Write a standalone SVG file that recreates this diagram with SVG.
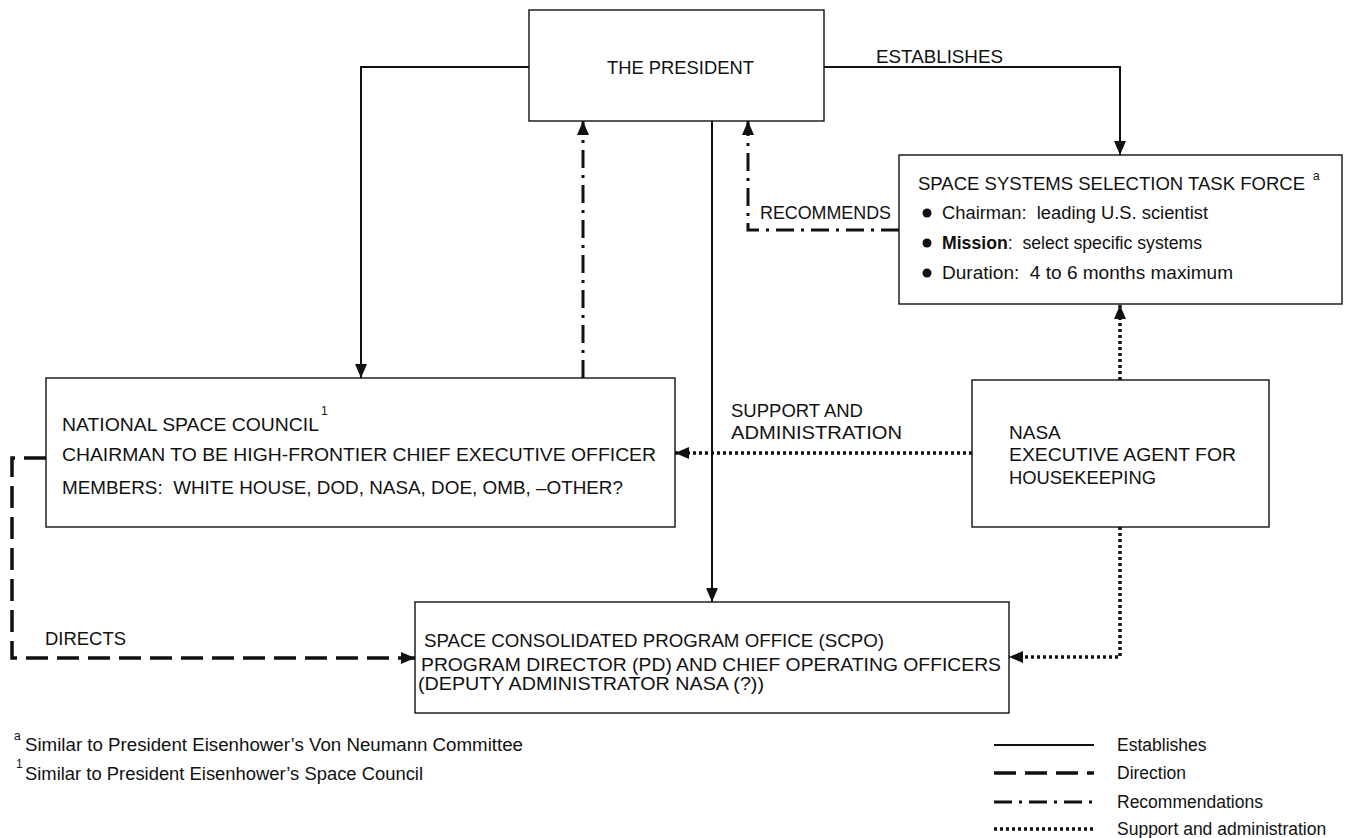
<svg xmlns="http://www.w3.org/2000/svg" width="1355" height="838" viewBox="0 0 1355 838">
<style>
text{font-family:"Liberation Sans",Arial,sans-serif;fill:#111}
.t{font-size:19px}
.m{font-size:18.3px}
.lg{font-size:17.5px}
.sup{font-size:12px}
.box{fill:#fff;stroke:#111;stroke-width:1.4}
.c{fill:none;stroke:#111}
.solid{stroke-width:2}
.dash{stroke-width:3.5;stroke-dasharray:22 9}
.dd{stroke-width:3;stroke-dasharray:18 7 3 7}
.dot{stroke-width:3.5;stroke-dasharray:3 3}
</style>
<defs>
<marker id="ah" markerUnits="userSpaceOnUse" markerWidth="15" markerHeight="15" viewBox="0 0 15 15" refX="14" refY="7.5" orient="auto">
<path d="M0,1.5 L14,7.5 L0,13.5 Z" fill="#111"/>
</marker>
</defs>
<rect width="1355" height="838" fill="#fff"/>
<g id="connectors">
<path class="c solid" d="M529,67 H361 V378" marker-end="url(#ah)"/>
<path class="c solid" d="M824,67 H1120 V155" marker-end="url(#ah)"/>
<path class="c solid" d="M712,121 V602" marker-end="url(#ah)"/>
<path class="c dd" d="M583,378 V121" marker-end="url(#ah)"/>
<path class="c dd" d="M899,230 H748 V121" marker-end="url(#ah)"/>
<path class="c dash" d="M46,458 H12 V658 H415" marker-end="url(#ah)"/>
<path class="c dot" d="M1120,380 V305" marker-end="url(#ah)"/>
<path class="c dot" d="M972,453 H675" marker-end="url(#ah)"/>
<path class="c dot" d="M1120,527 V657 H1009" marker-end="url(#ah)"/>
<text class="t" x="876" y="63" textLength="127" lengthAdjust="spacingAndGlyphs">ESTABLISHES</text>
<text class="t" x="760" y="219" textLength="131" lengthAdjust="spacingAndGlyphs">RECOMMENDS</text>
<text class="t" x="731" y="417" textLength="132" lengthAdjust="spacingAndGlyphs">SUPPORT AND</text>
<text class="t" x="731" y="439" textLength="171" lengthAdjust="spacingAndGlyphs">ADMINISTRATION</text>
<text class="t" x="45" y="645" textLength="81" lengthAdjust="spacingAndGlyphs">DIRECTS</text>
</g>
<g id="president">
<rect class="box" x="529" y="10" width="295" height="111"/>
<text class="t" x="607" y="74" textLength="147" lengthAdjust="spacingAndGlyphs">THE PRESIDENT</text>
</g>
<g id="task-force">
<rect class="box" x="899" y="155" width="443" height="149"/>
<text class="t" x="918" y="190" textLength="387" lengthAdjust="spacingAndGlyphs">SPACE SYSTEMS SELECTION TASK FORCE</text>
<text class="sup" x="1313" y="180">a</text>
<circle cx="927" cy="213" r="4.5" fill="#111"/>
<circle cx="927" cy="243" r="4.5" fill="#111"/>
<circle cx="927" cy="273" r="4.5" fill="#111"/>
<text class="m" x="942" y="219" xml:space="preserve" textLength="266" lengthAdjust="spacingAndGlyphs">Chairman:  leading U.S. scientist</text>
<text class="m" x="942" y="249" xml:space="preserve" textLength="260" lengthAdjust="spacingAndGlyphs"><tspan font-weight="bold">Mission</tspan>:  select specific systems</text>
<text class="m" x="942" y="279" xml:space="preserve" textLength="291" lengthAdjust="spacingAndGlyphs">Duration:  4 to 6 months maximum</text>
</g>
<g id="national-space-council">
<rect class="box" x="46" y="378" width="629" height="149"/>
<text class="t" x="62" y="431" textLength="257" lengthAdjust="spacingAndGlyphs">NATIONAL SPACE COUNCIL</text>
<text class="sup" x="321" y="415">1</text>
<text class="t" x="62" y="461" textLength="594" lengthAdjust="spacingAndGlyphs">CHAIRMAN TO BE HIGH-FRONTIER CHIEF EXECUTIVE OFFICER</text>
<text class="t" x="62" y="494" xml:space="preserve" textLength="561" lengthAdjust="spacingAndGlyphs">MEMBERS:  WHITE HOUSE, DOD, NASA, DOE, OMB, –OTHER?</text>
</g>
<g id="nasa">
<rect class="box" x="972" y="380" width="297" height="147"/>
<text class="t" x="1009" y="439">NASA</text>
<text class="t" x="1009" y="461" textLength="227" lengthAdjust="spacingAndGlyphs">EXECUTIVE AGENT FOR</text>
<text class="t" x="1009" y="484" textLength="147" lengthAdjust="spacingAndGlyphs">HOUSEKEEPING</text>
</g>
<g id="scpo">
<rect class="box" x="415" y="602" width="594" height="111"/>
<text class="t" x="424" y="647" textLength="460" lengthAdjust="spacingAndGlyphs">SPACE CONSOLIDATED PROGRAM OFFICE (SCPO)</text>
<text class="t" x="421" y="671" textLength="580" lengthAdjust="spacingAndGlyphs">PROGRAM DIRECTOR (PD) AND CHIEF OPERATING OFFICERS</text>
<text class="t" x="418" y="690" textLength="346" lengthAdjust="spacingAndGlyphs">(DEPUTY ADMINISTRATOR NASA (?))</text>
</g>
<g id="footnotes">
<text class="sup" x="14" y="740">a</text>
<text class="m" x="25" y="751" textLength="498" lengthAdjust="spacingAndGlyphs">Similar to President Eisenhower’s Von Neumann Committee</text>
<text class="sup" x="16" y="768">1</text>
<text class="m" x="25" y="780" textLength="398" lengthAdjust="spacingAndGlyphs">Similar to President Eisenhower’s Space Council</text>
</g>
<g id="legend">
<line class="c solid" x1="994" y1="745" x2="1094" y2="745"/>
<line class="c dash" x1="994" y1="773" x2="1094" y2="773" stroke-dasharray="18 7"/>
<line class="c dd" x1="994" y1="802" x2="1094" y2="802" stroke-dasharray="22 8 4 8"/>
<line class="c dot" x1="994" y1="829" x2="1094" y2="829"/>
<text class="lg" x="1117" y="751">Establishes</text>
<text class="lg" x="1117" y="779">Direction</text>
<text class="lg" x="1117" y="808">Recommendations</text>
<text class="lg" x="1117" y="835">Support and administration</text>
</g>
</svg>
